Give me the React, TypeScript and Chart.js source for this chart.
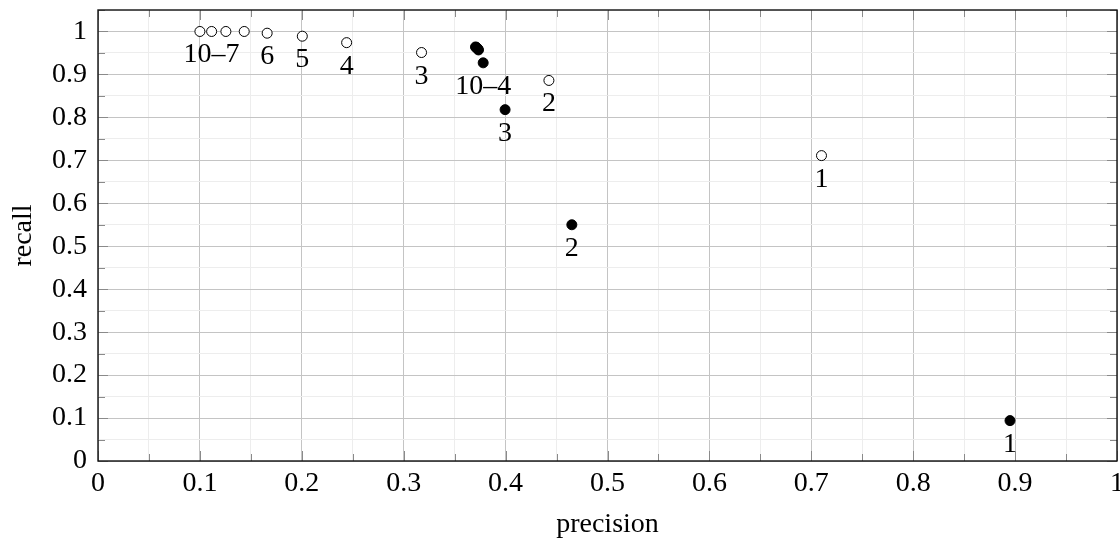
import { useEffect, useRef } from "react";
import { Chart, registerables } from "chart.js";

Chart.register(...registerables);

// Open circles (series A)
const openPrecision = [0.1, 0.1115, 0.1255, 0.1435, 0.166, 0.2005, 0.244, 0.3175, 0.4425, 0.71];
const openRecall = [1.0, 1.0, 1.0, 1.0, 0.996, 0.989, 0.974, 0.951, 0.886, 0.711];
const openLabels = ["", "10–7", "", "", "6", "5", "4", "3", "2", "1"];

// Filled circles (series B)
const filledPrecision = [0.3705, 0.371, 0.3716, 0.3722, 0.3728, 0.3734, 0.378, 0.3995, 0.465, 0.895];
const filledRecall = [0.964, 0.963, 0.962, 0.961, 0.959, 0.957, 0.927, 0.818, 0.55, 0.094];
const filledLabels = ["", "", "", "", "", "", "10–4", "3", "2", "1"];

// Axis tick labels (major ticks every 0.1, minor every 0.05)
const xTickLabels = ["0", "0.1", "0.2", "0.3", "0.4", "0.5", "0.6", "0.7", "0.8", "0.9", "1"];
const yTickLabels = ["0", "0.1", "0.2", "0.3", "0.4", "0.5", "0.6", "0.7", "0.8", "0.9", "1"];

const xTitle = "precision";
const yTitle = "recall";

const FONT = "'Liberation Serif', 'DejaVu Serif', serif";
const FS = 28;

const isMajor = (v: number) => Math.abs(v * 10 - Math.round(v * 10)) < 1e-6;

const decorPlugin = {
  id: "decor",
  afterDatasetsDraw(chart: any) {
    const ctx = chart.ctx;
    const xs = chart.scales.x;
    const ys = chart.scales.y;
    const area = chart.chartArea;
    ctx.save();
    ctx.fillStyle = "#000";
    ctx.font = `${FS}px ${FONT}`;
    ctx.textAlign = "center";
    ctx.textBaseline = "alphabetic";
    const drawLabels = (px: number[], py: number[], labels: string[]) => {
      labels.forEach((t, i) => {
        if (!t) return;
        const x = xs.getPixelForValue(px[i]);
        const y = ys.getPixelForValue(py[i]);
        ctx.fillText(t, x, y + 31);
      });
    };
    drawLabels(openPrecision, openRecall, openLabels);
    drawLabels(filledPrecision, filledRecall, filledLabels);

    // inward tick marks on all four sides
    ctx.strokeStyle = "#8a8a8a";
    ctx.lineWidth = 1;
    xs.ticks.forEach((t: any) => {
      const x = Math.round(xs.getPixelForValue(t.value)) + 0.5;
      const len = isMajor(t.value) ? 10 : 7;
      ctx.beginPath();
      ctx.moveTo(x, area.bottom);
      ctx.lineTo(x, area.bottom - len);
      ctx.moveTo(x, area.top);
      ctx.lineTo(x, area.top + len);
      ctx.stroke();
    });
    ys.ticks.forEach((t: any) => {
      const y = Math.round(ys.getPixelForValue(t.value)) + 0.5;
      const len = isMajor(t.value) ? 10 : 7;
      ctx.beginPath();
      ctx.moveTo(area.left, y);
      ctx.lineTo(area.left + len, y);
      ctx.moveTo(area.right, y);
      ctx.lineTo(area.right - len, y);
      ctx.stroke();
    });

    // axis box
    ctx.strokeStyle = "#111";
    ctx.lineWidth = 1.4;
    ctx.strokeRect(area.left, area.top, area.right - area.left, area.bottom - area.top);

    // axis titles
    ctx.fillStyle = "#000";
    ctx.font = `${FS}px ${FONT}`;
    ctx.textAlign = "center";
    ctx.textBaseline = "alphabetic";
    ctx.fillText(xTitle, (area.left + area.right) / 2, area.bottom + 71);
    ctx.translate(area.left - 67, (area.top + area.bottom) / 2);
    ctx.rotate(-Math.PI / 2);
    ctx.fillText(yTitle, 0, 0);
    ctx.restore();
  },
};

export default function App() {
  const canvasRef = useRef<HTMLCanvasElement | null>(null);

  useEffect(() => {
    if (!canvasRef.current) return;
    const gridColor = (c: any) => (isMajor(c.tick.value) ? "#c4c4c4" : "#ededed");
    const chart = new Chart(canvasRef.current, {
      type: "scatter",
      data: {
        datasets: [
          {
            label: "open",
            data: openPrecision.map((x, i) => ({ x, y: openRecall[i] })),
            backgroundColor: "#ffffff",
            borderColor: "#000000",
            borderWidth: 1,
            pointRadius: 5,
            pointHoverRadius: 5,
          },
          {
            label: "filled",
            data: filledPrecision.map((x, i) => ({ x, y: filledRecall[i] })),
            backgroundColor: "#000000",
            borderColor: "#000000",
            borderWidth: 1,
            pointRadius: 5,
            pointHoverRadius: 5,
          },
        ],
      },
      options: {
        animation: false,
        responsive: true,
        maintainAspectRatio: false,
        layout: { autoPadding: false, padding: { top: 10, right: 3, left: 0, bottom: 0 } },
        plugins: {
          legend: { display: false },
          tooltip: { enabled: false },
        },
        scales: {
          x: {
            type: "linear",
            min: 0,
            max: 1,
            border: { display: false },
            grid: { color: gridColor, lineWidth: 1, drawTicks: false },
            ticks: {
              stepSize: 0.05,
              autoSkip: false,
              maxRotation: 0,
              padding: 6,
              color: "#000",
              font: { family: FONT, size: FS },
              callback: (v: any) => {
                const n = Number(v);
                return isMajor(n) ? xTickLabels[Math.round(n * 10)] : "";
              },
            },
            afterFit: (s: any) => {
              s.height = 78;
              s.paddingLeft = 0;
              s.paddingRight = 0;
            },
          },
          y: {
            type: "linear",
            min: 0,
            max: 1.05,
            border: { display: false },
            grid: { color: gridColor, lineWidth: 1, drawTicks: false },
            ticks: {
              stepSize: 0.05,
              autoSkip: false,
              padding: 11,
              color: "#000",
              font: { family: FONT, size: FS },
              callback: (v: any) => {
                const n = Number(v);
                if (n > 1.0001) return "";
                return isMajor(n) ? yTickLabels[Math.round(n * 10)] : "";
              },
            },
            afterFit: (s: any) => {
              s.width = 98;
              s.paddingTop = 0;
              s.paddingBottom = 0;
            },
          },
        },
      },
      plugins: [decorPlugin],
    });
    return () => chart.destroy();
  }, []);

  return (
    <div style={{ position: "absolute", left: 0, top: 0, width: 1120, height: 539 }}>
      <canvas ref={canvasRef} />
    </div>
  );
}
